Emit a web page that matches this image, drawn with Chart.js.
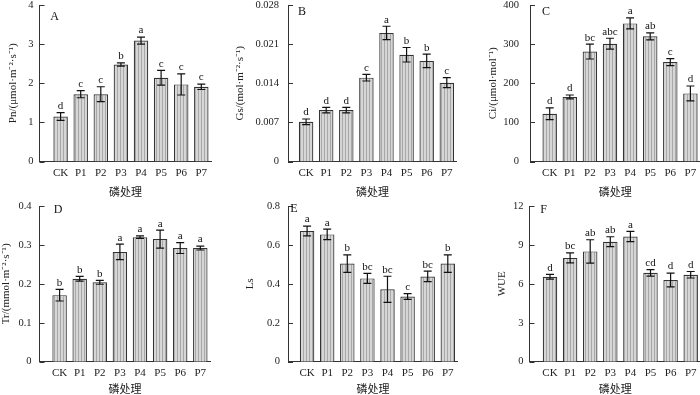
<!DOCTYPE html>
<html>
<head>
<meta charset="utf-8">
<script src="https://cdn.jsdelivr.net/npm/chart.js@4.4.1/dist/chart.umd.min.js"></script>
<style>
  html, body { margin: 0; padding: 0; background: #fff; width: 700px; height: 395px; overflow: hidden; }
  canvas { position: absolute; }
</style>
</head>
<body>
<canvas id="cA"></canvas>
<canvas id="cB"></canvas>
<canvas id="cC"></canvas>
<canvas id="cD"></canvas>
<canvas id="cE"></canvas>
<canvas id="cF"></canvas>
<script>
// data
const categories = ["CK", "P1", "P2", "P3", "P4", "P5", "P6", "P7"];

const pnMean = [1.15, 1.72, 1.72, 2.48, 3.09, 2.14, 1.97, 1.91];
const pnErr = [0.1, 0.09, 0.19, 0.04, 0.09, 0.19, 0.27, 0.07];
const pnLetters = ["d", "c", "c", "b", "a", "c", "c", "c"];
const pnTicks = [0, 1, 2, 3, 4];
const pnTickLabels = ["0", "1", "2", "3", "4"];

const gsMean = [0.0071, 0.0092, 0.0092, 0.0150, 0.0230, 0.0191, 0.0180, 0.0141];
const gsErr = [0.0005, 0.0005, 0.0005, 0.0006, 0.0012, 0.0013, 0.0012, 0.0009];
const gsLetters = ["d", "d", "d", "c", "a", "b", "b", "c"];
const gsTicks = [0, 0.007, 0.014, 0.021, 0.028];
const gsTickLabels = ["0", "0.007", "0.014", "0.021", "0.028"];

const ciMean = [122, 165, 281, 301, 353, 320, 254, 174];
const ciErr = [15, 5, 19, 14, 14, 9, 9, 19];
const ciLetters = ["d", "d", "bc", "abc", "a", "ab", "c", "d"];
const ciTicks = [0, 100, 200, 300, 400];
const ciTickLabels = ["0", "100", "200", "300", "400"];

const trMean = [0.171, 0.213, 0.204, 0.282, 0.320, 0.315, 0.292, 0.292];
const trErr = [0.015, 0.006, 0.005, 0.02, 0.003, 0.023, 0.014, 0.005];
const trLetters = ["b", "b", "b", "a", "a", "a", "a", "a"];
const trTicks = [0, 0.1, 0.2, 0.3, 0.4];
const trTickLabels = ["0", "0.1", "0.2", "0.3", "0.4"];

const lsMean = [0.672, 0.654, 0.504, 0.428, 0.372, 0.335, 0.438, 0.504];
const lsErr = [0.025, 0.027, 0.045, 0.026, 0.067, 0.015, 0.027, 0.045];
const lsLetters = ["a", "a", "b", "bc", "bc", "c", "bc", "b"];
const lsTicks = [0, 0.2, 0.4, 0.6, 0.8];
const lsTickLabels = ["0", "0.2", "0.4", "0.6", "0.8"];

const wueMean = [6.55, 8.0, 8.5, 9.25, 9.65, 6.85, 6.3, 6.7];
const wueErr = [0.18, 0.38, 0.9, 0.38, 0.4, 0.25, 0.53, 0.25];
const wueLetters = ["d", "bc", "ab", "ab", "a", "cd", "d", "d"];
const wueTicks = [0, 3, 6, 9, 12];
const wueTickLabels = ["0", "3", "6", "9", "12"];

const xTitle = "磷处理";

Chart.defaults.font.family = "'Liberation Serif', 'Noto Sans CJK SC', serif";
Chart.defaults.color = "#222";

// striped bar fill
function stripes() {
  const p = document.createElement("canvas");
  p.width = 3; p.height = 4;
  const g = p.getContext("2d");
  g.fillStyle = "#d6d6d6"; g.fillRect(0, 0, 3, 4);
  g.fillStyle = "#a8a8a8"; g.fillRect(0, 0, 1, 4);
  return g.createPattern(p, "repeat");
}
const fill = stripes();

const UNIT = 20.1; // px per category

function makePanel(p) {
  const cv = document.getElementById(p.id);
  cv.width = p.W; cv.height = p.H;
  cv.style.left = p.L + "px"; cv.style.top = p.T + "px";
  const xMax = 7.5;
  const plotW = (xMax - p.xMin) * UNIT;
  const padRight = p.W - p.yW - plotW;
  const xH = p.H - (p.bottom - p.T);

  const decor = {
    id: "decor",
    afterDraw(chart) {
      const { ctx, chartArea, scales: { x, y } } = chart;
      ctx.save();
      ctx.strokeStyle = "#111";
      ctx.lineWidth = 1.2;
      ctx.fillStyle = "#111";
      ctx.font = "11px 'Liberation Serif', serif";
      ctx.textAlign = "center";
      ctx.textBaseline = "bottom";
      p.mean.forEach((m, i) => {
        const px = x.getPixelForValue(i);
        const top = y.getPixelForValue(m + p.err[i]);
        const bot = y.getPixelForValue(m - p.err[i]);
        ctx.beginPath();
        ctx.moveTo(px, top); ctx.lineTo(px, bot);
        ctx.moveTo(px - 4, top); ctx.lineTo(px + 4, top);
        ctx.moveTo(px - 4, bot); ctx.lineTo(px + 4, bot);
        ctx.stroke();
        ctx.fillText(p.letters[i], px, top - 1);
      });
      // inward tick marks
      ctx.strokeStyle = "#333";
      ctx.lineWidth = 1;
      y.ticks.forEach(t => {
        const py = Math.round(y.getPixelForValue(t.value)) + 0.5;
        ctx.beginPath();
        ctx.moveTo(chartArea.left, py);
        ctx.lineTo(chartArea.left + 5, py);
        ctx.stroke();
      });
      ctx.font = "12px 'Liberation Serif', serif";
      ctx.textBaseline = "middle";
      ctx.fillText(p.label, chartArea.left + p.labDx, chartArea.top + p.labDy);
      ctx.restore();
    }
  };

  return new Chart(cv, {
    type: "bar",
    data: {
      datasets: [{
        data: p.mean.map((m, i) => ({ x: i, y: m })),
        backgroundColor: fill,
        borderColor: "#333",
        borderWidth: 1.2,
        barPercentage: 0.72,
        categoryPercentage: 1,
      }],
    },
    plugins: [decor],
    options: {
      responsive: false,
      animation: false,
      layout: { padding: { top: p.top - p.T, right: padRight, left: 0, bottom: 0 } },
      plugins: { legend: { display: false }, tooltip: { enabled: false } },
      scales: {
        x: {
          type: "linear",
          offset: false,
          min: p.xMin,
          max: xMax,
          grid: { display: false, drawTicks: false },
          border: { display: true, color: "#333", width: 1 },
          afterBuildTicks: (s) => { s.ticks = categories.map((c, i) => ({ value: i })); },
          afterFit: (s) => { s.height = xH; s.paddingLeft = 0; s.paddingRight = 0; },
          ticks: {
            padding: 5,
            maxRotation: 0,
            autoSkip: false,
            font: { size: 11 },
            callback: (v, i) => categories[i],
          },
          title: {
            display: true,
            text: xTitle,
            font: { size: 11, family: "'Noto Sans CJK SC', sans-serif" },
            padding: { top: 0, bottom: 0 },
          },
        },
        y: {
          min: 0,
          max: p.ticks[p.ticks.length - 1],
          grid: { display: false, drawTicks: false },
          border: { display: true, color: "#333", width: 1 },
          afterBuildTicks: (s) => { s.ticks = p.ticks.map(v => ({ value: v })); },
          afterFit: (s) => { s.width = p.yW; s.paddingTop = 0; s.paddingBottom = 0; },
          ticks: {
            padding: p.tickPad,
            font: { size: 10.5 },
            callback: (v, i) => p.tickLabels[i],
          },
          title: {
            display: true,
            text: p.yTitle,
            font: { size: 11 },
            padding: { top: p.titlePad, bottom: 0 },
          },
        },
      },
    },
  });
}

makePanel({ id: "cA", L: 0, T: 0, W: 225, H: 198, top: 5, bottom: 161.5, yW: 39.5, xMin: -1.05,
  mean: pnMean, err: pnErr, letters: pnLetters, ticks: pnTicks, tickLabels: pnTickLabels,
  yTitle: "Pn/(μmol·m⁻²·s⁻¹)", tickPad: 6, titlePad: 6.4, label: "A", labDx: 15, labDy: 11.5 });
makePanel({ id: "cB", L: 228, T: 0, W: 235, H: 198, top: 5, bottom: 161.5, yW: 60, xMin: -0.9,
  mean: gsMean, err: gsErr, letters: gsLetters, ticks: gsTicks, tickLabels: gsTickLabels,
  yTitle: "Gs/(mol·m⁻²·s⁻¹)", tickPad: 9, titlePad: 5.4, label: "B", labDx: 14, labDy: 6.5 });
makePanel({ id: "cC", L: 465, T: 0, W: 240, H: 198, top: 5, bottom: 161.5, yW: 65, xMin: -0.98,
  mean: ciMean, err: ciErr, letters: ciLetters, ticks: ciTicks, tickLabels: ciTickLabels,
  yTitle: "Ci/(μmol·mol⁻¹)", tickPad: 11, titlePad: 21.4, label: "C", labDx: 16, labDy: 6.5 });
makePanel({ id: "cD", L: 0, T: 198, W: 225, H: 197, top: 206, bottom: 361.7, yW: 39.5, xMin: -1.0,
  mean: trMean, err: trErr, letters: trLetters, ticks: trTicks, tickLabels: trTickLabels,
  yTitle: "Tr/(mmol·m⁻²·s⁻¹)", tickPad: 8, titlePad: 0, label: "D", labDx: 18.5, labDy: 4 });
makePanel({ id: "cE", L: 228, T: 198, W: 235, H: 197, top: 206, bottom: 361.7, yW: 60, xMin: -0.95,
  mean: lsMean, err: lsErr, letters: lsLetters, ticks: lsTicks, tickLabels: lsTickLabels,
  yTitle: "Ls", tickPad: 8, titlePad: 15.4, label: "E", labDx: 6, labDy: 3 });
makePanel({ id: "cF", L: 465, T: 198, W: 240, H: 197, top: 206, bottom: 361.7, yW: 64.5, xMin: -1.02,
  mean: wueMean, err: wueErr, letters: wueLetters, ticks: wueTicks, tickLabels: wueTickLabels,
  yTitle: "WUE", tickPad: 6, titlePad: 30.4, label: "F", labDx: 14, labDy: 4 });
</script>
</body>
</html>
